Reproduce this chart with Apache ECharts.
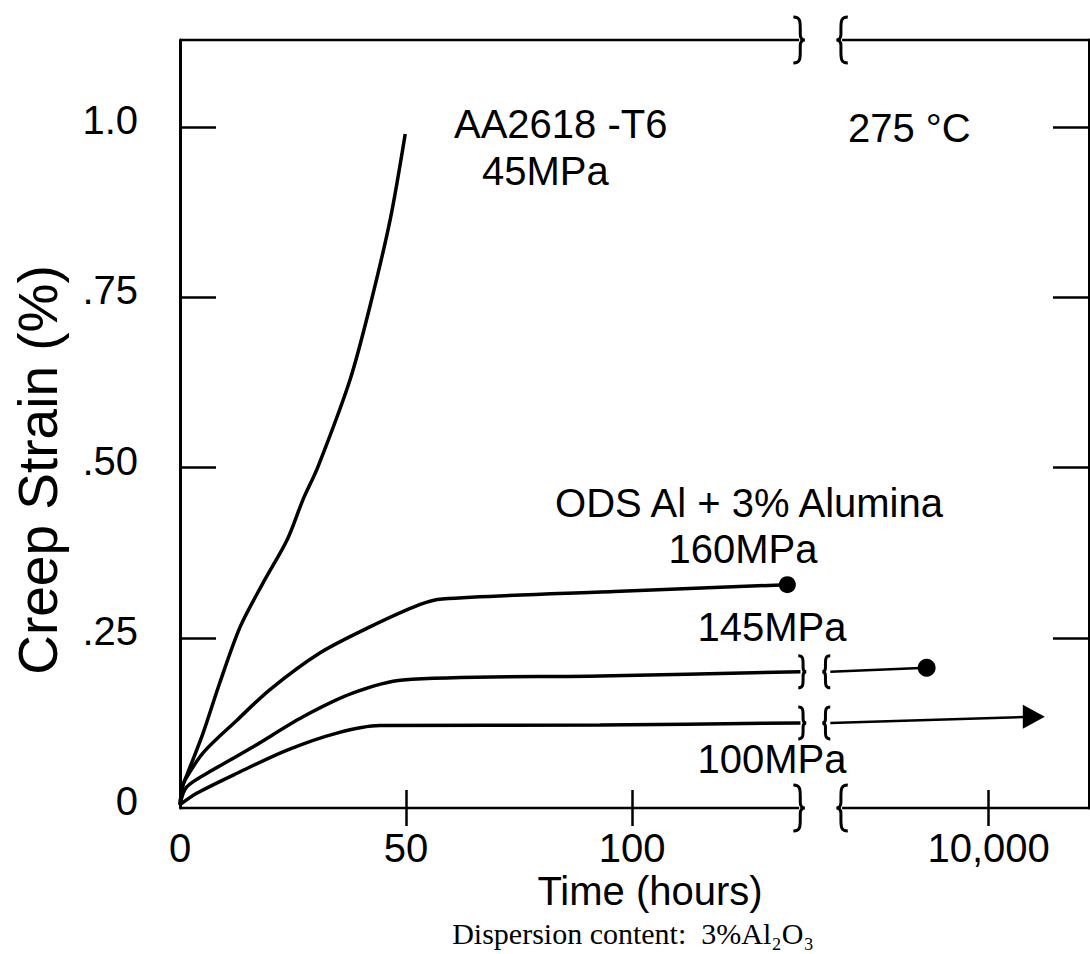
<!DOCTYPE html>
<html><head><meta charset="utf-8">
<script src="https://cdn.jsdelivr.net/npm/echarts@6/dist/echarts.min.js"></script>
<style>html,body{margin:0;padding:0;background:#fff}#c{width:1090px;height:954px}</style>
</head><body><div id="c"></div>
<script>
// ---- data (hours, creep strain %) ----
const aa2618Hours  = [0, 0.5, 1.5, 5.1, 8.8, 13.3, 18.4, 23.7, 27.2, 30.5, 37.6, 42.0, 46.5, 49.8];
const aa2618Strain = [0.005, 0.03, 0.048, 0.110, 0.184, 0.266, 0.331, 0.394, 0.453, 0.501, 0.629, 0.737, 0.865, 0.990];

const ods160Hours  = [0, 0.5, 1.1, 5.1, 12.6, 19.9, 31.0, 42.0, 53.1, 58.0, 96, 134.3];
const ods160Strain = [0.005, 0.03, 0.041, 0.081, 0.129, 0.174, 0.228, 0.266, 0.299, 0.307, 0.318, 0.328];

const ods145Hours  = [0, 1.5, 7.3, 16.2, 27.2, 38.3, 49.3, 92.9, 137.2];
const ods145Strain = [0.005, 0.031, 0.056, 0.090, 0.134, 0.169, 0.188, 0.194, 0.200];
const ods145PostHours  = [6500, 8630];
const ods145PostStrain = [0.200, 0.206];

const ods100Hours  = [0, 3.8, 12.6, 23.7, 34.7, 44.2, 92.9, 137.2];
const ods100Strain = [0.005, 0.022, 0.051, 0.085, 0.110, 0.121, 0.122, 0.125];
const ods100PostHours  = [6500, 11000];
const ods100PostStrain = [0.125, 0.134];

const xTickHours  = [0, 50, 100, 10000];
const xTickLabels = ['0', '50', '100', '10,000'];
const yTickValues = [0, 0.25, 0.5, 0.75, 1.0];
const yTickLabels = ['0', '.25', '.50', '.75', '1.0'];

// ---- broken time axis: linear hours before the break, compressed after ----
const PRE_BREAK_END = 137.2;   // hours
const POS_10000 = 178.8;       // axis position of the 10,000 h tick
const HOURS_PER_UNIT = 100;    // compression after the break
function pos(h) { return h <= PRE_BREAK_END ? h : POS_10000 + (h - 10000) / HOURS_PER_UNIT; }
const X_MAX = 201, Y_MAX = 1.128;
const AXIS_BREAK = [136.9, 146.4];     // axis positions of the break marks on frame
const CURVE_BREAK = [137.6, 142.9];    // axis positions of the break marks on curves

const pairs = (xs, ys) => xs.map((x, i) => [pos(x), ys[i]]);
const tickPos = xTickHours.map(pos);
const FONT = '"Liberation Sans", Arial, Helvetica, sans-serif';

const lineBase = { type: 'line', symbol: 'none', smooth: 0.3,
  lineStyle: { color: '#000', width: 3.5 }, itemStyle: { color: '#000' },
  silent: true, animation: false, z: 5 };

function endMarker(data, symbol, size) {
  const d = data.map(p => ({ value: p }));
  d[d.length - 1].symbol = symbol;
  d[d.length - 1].symbolSize = size;
  return d;
}

function brace(mirror) {
  return mirror
    ? 'M10,0 C4,0 4,4 4,10 L4,15 C4,18 3,20 0,20 C3,20 4,22 4,25 L4,30 C4,36 4,40 10,40'
    : 'M0,0 C6,0 6,4 6,10 L6,15 C6,18 7,20 10,20 C7,20 6,22 6,25 L6,30 C6,36 6,40 0,40';
}
function braceSeries(points, w, h) {
  return { type: 'custom', coordinateSystem: 'cartesian2d', silent: true, animation: false, clip: false, z: 10,
    data: points,
    renderItem(params, api) {
      const p = api.coord([api.value(0), api.value(1)]);
      const second = api.value(2) === 1;
      return { type: 'path', shape: { pathData: brace(second), x: p[0] - w / 2, y: p[1] - h / 2, width: w, height: h },
        style: { fill: 'none', stroke: '#000', lineWidth: 3 } };
    } };
}
const axisBreakMarks = [[AXIS_BREAK[0], 0, 0], [AXIS_BREAK[1], 0, 1], [AXIS_BREAK[0], Y_MAX, 0], [AXIS_BREAK[1], Y_MAX, 1]];
const curveBreakMarks = [[CURVE_BREAK[0], ods145Strain[ods145Strain.length - 1], 0], [CURVE_BREAK[1], ods145PostStrain[0], 1],
                         [CURVE_BREAK[0], ods100Strain[ods100Strain.length - 1], 0], [CURVE_BREAK[1], ods100PostStrain[0], 1]];

function frameLine(y) {
  return { type: 'line', symbol: 'none', clip: false, silent: true, animation: false, connectNulls: false,
    lineStyle: { color: '#000', width: 2.5 }, z: 4,
    data: [[0, y], [AXIS_BREAK[0], y], [(AXIS_BREAK[0] + AXIS_BREAK[1]) / 2, '-'], [AXIS_BREAK[1], y], [X_MAX, y]] };
}

const chart = echarts.init(document.getElementById('c'), null, { renderer: 'svg' });
const xAxisBase = { type: 'value', min: 0, max: X_MAX, splitLine: { show: false }, axisLine: { show: false } };
const yAxisBase = { type: 'value', min: 0, max: Y_MAX, splitLine: { show: false },
  axisLine: { show: true, onZero: false, lineStyle: { color: '#000', width: 3 } } };

chart.setOption({
  backgroundColor: '#fff',
  animation: false,
  grid: { left: 180, right: 1, top: 40, bottom: 146, containLabel: false },
  xAxis: [
    Object.assign({}, xAxisBase, { position: 'bottom',
      axisTick: { show: true, inside: true, length: 18, customValues: tickPos.slice(1), lineStyle: { color: '#000', width: 2.5 } },
      axisLabel: { show: true, customValues: tickPos, margin: 20, color: '#000', fontSize: 40, fontFamily: FONT,
        formatter: v => xTickLabels[tickPos.findIndex(t => Math.abs(t - v) < 1e-6)] || '' } }),
    Object.assign({}, xAxisBase, { position: 'top',
      axisTick: { show: true, inside: true, length: 18, customValues: tickPos.slice(1), lineStyle: { color: '#000', width: 2.5 } },
      axisLabel: { show: false } })
  ],
  yAxis: [
    Object.assign({}, yAxisBase, { position: 'left',
      axisTick: { show: true, inside: true, length: 36, customValues: yTickValues.slice(1), lineStyle: { color: '#000', width: 2.5 } },
      axisLabel: { show: true, customValues: yTickValues, margin: 42, color: '#000', fontSize: 40, fontFamily: FONT,
        verticalAlign: 'bottom', lineHeight: 14,
        formatter: v => yTickLabels[yTickValues.findIndex(t => Math.abs(t - v) < 1e-6)] || '' } }),
    Object.assign({}, yAxisBase, { position: 'right',
      axisTick: { show: true, inside: true, length: 36, customValues: yTickValues.slice(1), lineStyle: { color: '#000', width: 2.5 } },
      axisLabel: { show: false } })
  ],
  series: [
    frameLine(0), frameLine(Y_MAX),
    Object.assign({}, lineBase, { name: 'AA2618-T6 45MPa', data: pairs(aa2618Hours, aa2618Strain) }),
    Object.assign({}, lineBase, { name: 'ODS 160MPa', data: endMarker(pairs(ods160Hours, ods160Strain), 'circle', 17) }),
    Object.assign({}, lineBase, { name: 'ODS 145MPa', data: pairs(ods145Hours, ods145Strain) }),
    Object.assign({}, lineBase, { name: 'ODS 145MPa (long)', smooth: false, lineStyle: { color: '#000', width: 2.5 },
      data: endMarker(pairs(ods145PostHours, ods145PostStrain), 'circle', 18) }),
    Object.assign({}, lineBase, { name: 'ODS 100MPa', data: pairs(ods100Hours, ods100Strain) }),
    Object.assign({}, lineBase, { name: 'ODS 100MPa (long)', smooth: false, lineStyle: { color: '#000', width: 2.5 },
      data: endMarker(pairs(ods100PostHours, ods100PostStrain), 'path://M0,0 L14,6 L0,12 Z', [22, 24]) }),
    braceSeries(axisBreakMarks, 20, 46),
    braceSeries(curveBreakMarks, 12, 32)
  ],
  graphic: [
    { type: 'text', x: 454, y: 124, style: { text: 'AA2618 -T6', font: '40px ' + FONT, fill: '#000', align: 'left', verticalAlign: 'middle' } },
    { type: 'text', x: 482, y: 171, style: { text: '45MPa', font: '40px ' + FONT, fill: '#000', align: 'left', verticalAlign: 'middle' } },
    { type: 'text', x: 848, y: 128, style: { text: '275 °C', font: '40px ' + FONT, fill: '#000', align: 'left', verticalAlign: 'middle' } },
    { type: 'text', x: 749, y: 503, style: { text: 'ODS Al + 3% Alumina', font: '40px ' + FONT, fill: '#000', align: 'center', verticalAlign: 'middle' } },
    { type: 'text', x: 743, y: 549, style: { text: '160MPa', font: '40px ' + FONT, fill: '#000', align: 'center', verticalAlign: 'middle' } },
    { type: 'text', x: 772, y: 627, style: { text: '145MPa', font: '40px ' + FONT, fill: '#000', align: 'center', verticalAlign: 'middle' } },
    { type: 'text', x: 772, y: 759, style: { text: '100MPa', font: '40px ' + FONT, fill: '#000', align: 'center', verticalAlign: 'middle' } },
    { type: 'text', x: 650, y: 891, style: { text: 'Time (hours)', font: '40px ' + FONT, fill: '#000', align: 'center', verticalAlign: 'middle' } },
    { type: 'text', x: 38, y: 470, rotation: Math.PI / 2, style: { text: 'Creep Strain (%)', font: '55px ' + FONT, fill: '#000', align: 'center', verticalAlign: 'middle' } },
    { type: 'text', x: 633, y: 933, style: { text: 'Dispersion content:  3%Al₂O₃', font: '30px "Liberation Serif", "Times New Roman", "DejaVu Serif", serif', fill: '#000', align: 'center', verticalAlign: 'middle' } }
  ]
});
</script></body></html>
